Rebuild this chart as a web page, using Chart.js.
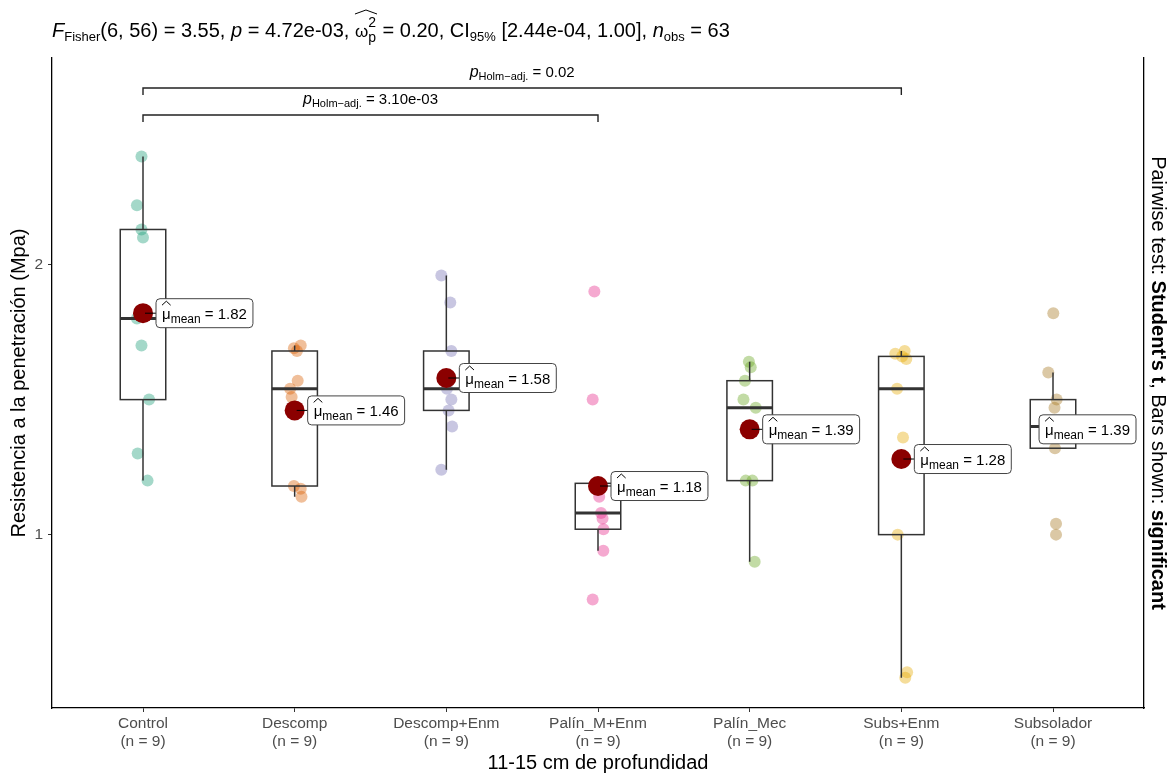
<!DOCTYPE html>
<html>
<head>
<meta charset="utf-8">
<script src="https://cdn.jsdelivr.net/npm/chart.js@4/dist/chart.umd.min.js"></script>
<style>
  html, body { margin: 0; padding: 0; background: #fff; }
</style>
</head>
<body>
<canvas id="grafico" width="1173" height="775"></canvas>
<script>
// --- datos ---
const grupos = ['Control', 'Descomp', 'Descomp+Enm', 'Palín_M+Enm', 'Palín_Mec', 'Subs+Enm', 'Subsolador'];

const control    = [2.40, 2.22, 2.13, 2.10, 1.80, 1.70, 1.50, 1.30, 1.20];
const descomp    = [1.70, 1.69, 1.68, 1.57, 1.54, 1.51, 1.18, 1.17, 1.14];
const descompEnm = [1.96, 1.86, 1.68, 1.58, 1.54, 1.50, 1.46, 1.40, 1.24];
const palinMEnm  = [1.90, 1.50, 1.19, 1.14, 1.08, 1.06, 1.02, 0.94, 0.76];
const palinMec   = [1.64, 1.62, 1.57, 1.50, 1.47, 1.40, 1.20, 1.20, 0.90];
const subsEnm    = [1.68, 1.67, 1.66, 1.65, 1.54, 1.36, 1.00, 0.49, 0.47];
const subsolador = [1.82, 1.60, 1.50, 1.47, 1.40, 1.36, 1.32, 1.04, 1.00];

// desplazamiento horizontal (jitter) de cada punto
const jitControl    = [-0.01, -0.04, -0.01, 0.00, -0.04, -0.01, 0.04, -0.035, 0.03];
const jitDescomp    = [0.04, -0.005, 0.015, 0.02, -0.03, -0.02, -0.005, 0.04, 0.045];
const jitDescompEnm = [-0.033, 0.026, 0.033, 0.013, 0.004, 0.033, 0.015, 0.038, -0.033];
const jitPalinMEnm  = [-0.024, -0.035, 0.0, 0.008, 0.02, 0.03, 0.036, 0.035, -0.035];
const jitPalinMec   = [-0.005, 0.007, -0.031, -0.041, 0.04, 0.007, -0.026, 0.018, 0.033];
const jitSubsEnm    = [0.022, -0.04, 0.005, 0.033, -0.028, 0.011, -0.024, 0.038, 0.026];
const jitSubsolador = [0.002, -0.031, 0.024, 0.01, -0.02, 0.03, 0.013, 0.02, 0.02];

const medias = [1.82, 1.46, 1.58, 1.18, 1.39, 1.28, 1.39];

const yTicks = [1, 2];

// comparaciones por pares mostradas
const paresA   = [1, 1];
const paresB   = [4, 6];
const pTexto   = ['3.10e-03', '0.02'];
const pAltura  = [2.554, 2.654];

const colores = ['#1B9E77', '#D95F02', '#7570B3', '#E7298A', '#66A61E', '#E6AB02', '#A6761D'];

const datos  = [control, descomp, descompEnm, palinMEnm, palinMec, subsEnm, subsolador];
const jitter = [jitControl, jitDescomp, jitDescompEnm, jitPalinMEnm, jitPalinMec, jitSubsEnm, jitSubsolador];

const FAM = '"Liberation Sans", Arial, sans-serif';
const anchoCaja = 0.3;

function alpha(hex, a) {
  const n = parseInt(hex.slice(1), 16);
  return 'rgba(' + (n >> 16) + ',' + ((n >> 8) & 255) + ',' + (n & 255) + ',' + a + ')';
}

function cuantil(s, p) {
  const h = (s.length - 1) * p, lo = Math.floor(h);
  if (lo + 1 >= s.length) return s[lo];
  return s[lo] + (h - lo) * (s[lo + 1] - s[lo]);
}

const stats = datos.map(function (d) {
  const s = d.slice().sort(function (a, b) { return a - b; });
  const q1 = cuantil(s, 0.25), med = cuantil(s, 0.5), q3 = cuantil(s, 0.75);
  const iqr = q3 - q1;
  const dentro = s.filter(function (v) { return v >= q1 - 1.5 * iqr && v <= q3 + 1.5 * iqr; });
  return { q1: q1, med: med, q3: q3, lo: dentro[0], hi: dentro[dentro.length - 1] };
});

// --- texto con sub/superindices ---
function seg(ctx, t, x, y, size, style, dy) {
  ctx.font = (style || '') + ' ' + size + 'px ' + FAM;
  ctx.fillText(t, x, y + (dy || 0));
  return ctx.measureText(t).width;
}
function medir(ctx, partes) {
  let w = 0;
  partes.forEach(function (p) {
    ctx.font = (p[2] || '') + ' ' + p[1] + 'px ' + FAM;
    w += ctx.measureText(p[0]).width;
  });
  return w;
}
function rico(ctx, partes, x, y) {
  partes.forEach(function (p) { x += seg(ctx, p[0], x, y, p[1], p[2], p[3]); });
  return x;
}
function gorro(ctx, x0, x1, y) {
  ctx.beginPath();
  ctx.moveTo(x0, y + 4);
  ctx.lineTo((x0 + x1) / 2, y);
  ctx.lineTo(x1, y + 4);
  ctx.lineWidth = 1;
  ctx.stroke();
}

const datasets = datos.map(function (d, i) {
  return {
    label: grupos[i],
    data: d.map(function (v, j) { return { x: i + 1 + jitter[i][j], y: v }; }),
    backgroundColor: alpha(colores[i], 0.4),
    borderWidth: 0,
    pointRadius: 6,
    order: 2
  };
});
const idxMedia = datasets.length;
datasets.push({
  label: 'media',
  data: medias.map(function (m, i) { return { x: i + 1, y: m }; }),
  backgroundColor: '#8B0000',
  borderWidth: 0,
  pointRadius: 10,
  order: 1
});

const cajasPlugin = {
  id: 'cajas',
  beforeDatasetDraw: function (chart, args) {
    if (args.index !== idxMedia) return;
    const ctx = chart.ctx, x = chart.scales.x, y = chart.scales.y;
    ctx.save();
    ctx.strokeStyle = '#333333';
    stats.forEach(function (s, i) {
      const cx = x.getPixelForValue(i + 1);
      const hw = x.getPixelForValue(i + 1 + anchoCaja / 2) - cx;
      const y1 = y.getPixelForValue(s.q1), y3 = y.getPixelForValue(s.q3), ym = y.getPixelForValue(s.med);
      ctx.lineWidth = 1.5;
      ctx.beginPath();
      ctx.moveTo(cx, y3); ctx.lineTo(cx, y.getPixelForValue(s.hi));
      ctx.moveTo(cx, y1); ctx.lineTo(cx, y.getPixelForValue(s.lo));
      ctx.stroke();
      ctx.strokeRect(cx - hw, y3, 2 * hw, y1 - y3);
      ctx.lineWidth = 3;
      ctx.beginPath();
      ctx.moveTo(cx - hw, ym); ctx.lineTo(cx + hw, ym);
      ctx.stroke();
    });
    ctx.restore();
  },
  afterDatasetsDraw: function (chart) {
    const ctx = chart.ctx, x = chart.scales.x, y = chart.scales.y, area = chart.chartArea;
    ctx.save();
    ctx.fillStyle = '#000';
    ctx.strokeStyle = '#000';
    ctx.textBaseline = 'alphabetic';

    // corchetes de comparaciones
    paresA.forEach(function (a, k) {
      const xa = x.getPixelForValue(a), xb = x.getPixelForValue(paresB[k]);
      const yb = y.getPixelForValue(pAltura[k]);
      ctx.lineWidth = 1.4;
      ctx.strokeStyle = '#222';
      ctx.beginPath();
      ctx.moveTo(xa, yb + 7); ctx.lineTo(xa, yb); ctx.lineTo(xb, yb); ctx.lineTo(xb, yb + 7);
      ctx.stroke();
      const partes = [['p', 16, 'italic'], ['Holm\u2212adj.', 11, '', 3], [' = ' + pTexto[k], 15]];
      const w = medir(ctx, partes);
      rico(ctx, partes, (xa + xb) / 2 - w / 2, yb - 11);
    });

    // etiquetas de medias
    medias.forEach(function (m, i) {
      const cx = x.getPixelForValue(i + 1), cy = y.getPixelForValue(m);
      const partes = [['\u03BC', 15], ['mean', 12, '', 4], [' = ' + m.toFixed(2), 15]];
      const w = medir(ctx, partes) + 12, h = 29;
      const left = Math.min(cx + 13, area.right - 8 - w);
      ctx.strokeStyle = '#000';
      ctx.lineWidth = 1;
      ctx.beginPath();
      ctx.moveTo(cx + 2, cy); ctx.lineTo(left, cy);
      ctx.stroke();
      ctx.fillStyle = '#fff';
      ctx.strokeStyle = '#444';
      ctx.beginPath();
      ctx.roundRect(left, cy - h / 2, w, h, 4);
      ctx.fill();
      ctx.stroke();
      ctx.fillStyle = '#000';
      ctx.strokeStyle = '#000';
      const x0 = left + 6;
      ctx.font = '15px ' + FAM;
      const wm = ctx.measureText('\u03BC').width;
      gorro(ctx, x0, x0 + wm, cy - 12);
      rico(ctx, partes, x0, cy + 6);
    });
    ctx.restore();
  },
  afterDraw: function (chart) {
    const ctx = chart.ctx, area = chart.chartArea;
    ctx.save();
    ctx.fillStyle = '#000';
    ctx.strokeStyle = '#000';
    ctx.textBaseline = 'alphabetic';

    // titulo superior
    let xx = 52;
    const yb = 37;
    xx = rico(ctx, [['F', 20, 'italic'], ['Fisher', 13, '', 4], ['(6, 56) = 3.55, ', 20], ['p', 20, 'italic'], [' = 4.72e-03, ', 20]], xx, yb);
    const ox = xx;
    xx += seg(ctx, '\u03C9', xx, yb, 17);
    const w2 = seg(ctx, '2', xx, yb, 14, '', -10);
    const wp = seg(ctx, 'p', xx, yb, 14, '', 5);
    xx += Math.max(w2, wp) + 1;
    gorro(ctx, ox, xx, yb - 27);
    rico(ctx, [[' = 0.20, CI', 20], ['95%', 13, '', 4], [' [2.44e-04, 1.00], ', 20], ['n', 20, 'italic'], ['obs', 13, '', 4], [' = 63', 20]], xx, yb);

    // titulo eje y
    const cyMid = (area.top + area.bottom) / 2;
    ctx.save();
    ctx.translate(19, cyMid);
    ctx.rotate(-Math.PI / 2);
    ctx.textAlign = 'center';
    ctx.textBaseline = 'middle';
    ctx.font = '20px ' + FAM;
    ctx.fillText('Resistencia a la penetración (Mpa)', 0, 0);
    ctx.restore();

    // titulo eje x
    ctx.textAlign = 'center';
    ctx.textBaseline = 'middle';
    ctx.font = '20px ' + FAM;
    ctx.fillText('11-15 cm de profundidad', (area.left + area.right) / 2, 763);

    // titulo eje derecho
    ctx.save();
    ctx.translate(1158, cyMid);
    ctx.rotate(Math.PI / 2);
    ctx.textAlign = 'left';
    ctx.textBaseline = 'middle';
    const pd = [['Pairwise test: ', 20], ["Student's t", 20, 'bold'], [', Bars shown: ', 20], ['significant', 20, 'bold']];
    const wd = medir(ctx, pd);
    rico(ctx, pd, -wd / 2, 0);
    ctx.restore();
    ctx.restore();
  }
};

const ejeBorde = { display: true, color: '#000', width: 1.3 };
const ejeGrid = { drawOnChartArea: false, drawTicks: true, tickLength: 4, color: '#333', lineWidth: 1 };

new Chart(document.getElementById('grafico').getContext('2d'), {
  type: 'scatter',
  data: { datasets: datasets },
  options: {
    responsive: false,
    animation: false,
    layout: { padding: { top: 58, left: 0, right: 0, bottom: 0 } },
    plugins: { legend: { display: false }, tooltip: { enabled: false } },
    scales: {
      x: {
        type: 'linear', min: 0.4, max: 7.6,
        afterBuildTicks: function (a) { a.ticks = grupos.map(function (g, i) { return { value: i + 1 }; }); },
        afterFit: function (s) { s.height = 67; },
        ticks: {
          callback: function (v) { return [grupos[v - 1], '(n = ' + datos[v - 1].length + ')']; },
          color: '#4D4D4D', font: { family: FAM, size: 15.5, lineHeight: 1.17 },
          padding: 3, maxRotation: 0, autoSkip: false
        },
        grid: ejeGrid,
        border: ejeBorde
      },
      y: {
        type: 'linear', min: 0.358, max: 2.765,
        afterBuildTicks: function (a) { a.ticks = yTicks.map(function (v) { return { value: v }; }); },
        afterFit: function (s) { s.width = 52; },
        ticks: { color: '#4D4D4D', font: { family: FAM, size: 15.5 }, padding: 5 },
        grid: ejeGrid,
        border: ejeBorde
      },
      y2: {
        type: 'linear', position: 'right', min: 0, max: 1,
        afterFit: function (s) { s.width = 29; },
        ticks: { display: false },
        grid: { drawOnChartArea: false, drawTicks: false },
        border: ejeBorde
      }
    }
  },
  plugins: [cajasPlugin]
});
</script>
</body>
</html>
